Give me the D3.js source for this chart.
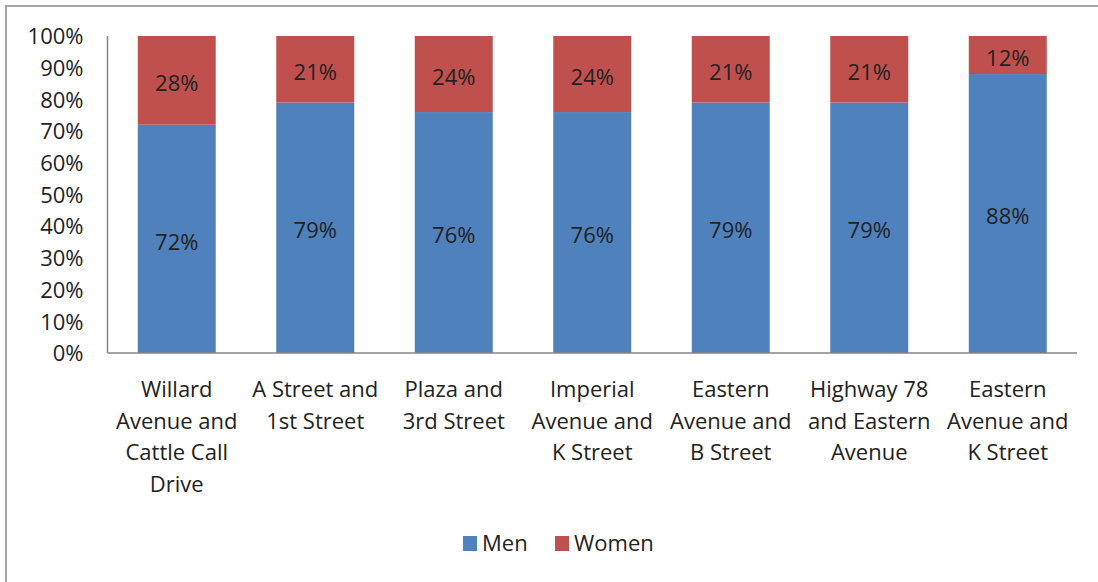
<!DOCTYPE html>
<html>
<head>
<meta charset="utf-8">
<script src="https://cdn.jsdelivr.net/npm/d3@7"></script>
<style>
  html, body { margin: 0; padding: 0; background: #fff; }
  svg { display: block; }
  text { font-family: "Open Sans", "DejaVu Sans", sans-serif; fill: #222; }
</style>
</head>
<body>
<script>
const categories = [
  ["Willard", "Avenue and", "Cattle Call", "Drive"],
  ["A Street and", "1st Street"],
  ["Plaza and", "3rd Street"],
  ["Imperial", "Avenue and", "K Street"],
  ["Eastern", "Avenue and", "B Street"],
  ["Highway 78", "and Eastern", "Avenue"],
  ["Eastern", "Avenue and", "K Street"]
];
const men = [72, 79, 76, 76, 79, 79, 88];
const women = [28, 21, 24, 24, 21, 21, 12];
const yTicks = [0, 10, 20, 30, 40, 50, 60, 70, 80, 90, 100];
const seriesNames = ["Men", "Women"];
const colors = ["#4f81bd", "#c0504d"];

const W = 1098, H = 582;
const svg = d3.select("body").append("svg").attr("width", W).attr("height", H);

// outer chart border
svg.append("rect").attr("x", 6).attr("y", 6).attr("width", W + 10).attr("height", H + 10)
  .attr("fill", "none").attr("stroke", "#a6a6a6").attr("stroke-width", 2);

const plotLeft = 107.5, plotRight = 1077, plotTop = 36, plotBottom = 353;
const ids = categories.map((d, i) => i);
const x = d3.scaleBand().domain(ids).range([plotLeft, plotRight])
  .paddingInner(0.437).paddingOuter(0.2185);
const y = d3.scaleLinear().domain([0, 100]).range([plotBottom, plotTop]);

const FS = 22;

// y axis labels
const yAxis = d3.axisLeft(y).tickValues(yTicks).tickSize(0).tickPadding(24)
  .tickFormat(d => d + "%");
const ya = svg.append("g").attr("transform", `translate(${plotLeft},0)`).call(yAxis);
ya.select(".domain").remove();
ya.selectAll("text").attr("font-size", FS).attr("font-family", "'Open Sans', sans-serif")
  .attr("fill", "#222").attr("dy", "0.35em");

// stacked bars
const stackData = ids.map(i => ({ i, Men: men[i], Women: women[i] }));
const stack = d3.stack().keys(seriesNames)(stackData);
stack.forEach((layer, li) => {
  svg.append("g").selectAll("rect").data(layer).join("rect")
    .attr("x", d => x(d.data.i))
    .attr("width", x.bandwidth())
    .attr("y", d => y(d[1]))
    .attr("height", d => y(d[0]) - y(d[1]))
    .attr("fill", colors[li]);
  svg.append("g").selectAll("text").data(layer).join("text")
    .attr("x", d => x(d.data.i) + x.bandwidth() / 2)
    .attr("y", d => (y(d[0]) + y(d[1])) / 2 + 3)
    .attr("dy", "0.35em")
    .attr("text-anchor", "middle")
    .attr("font-size", FS)
    .attr("fill", li === 0 ? "#1c2636" : "#3a1514")
    .text(d => (d[1] - d[0]) + "%");
});

// axis lines
svg.append("line").attr("x1", plotLeft).attr("x2", plotLeft).attr("y1", plotTop).attr("y2", plotBottom)
  .attr("stroke", "#868686").attr("stroke-width", 1.5);
svg.append("line").attr("x1", plotLeft).attr("x2", plotRight).attr("y1", plotBottom).attr("y2", plotBottom)
  .attr("stroke", "#868686").attr("stroke-width", 1.5);

// category labels
const xAxis = svg.append("g");
ids.forEach(i => {
  const t = xAxis.append("text")
    .attr("x", x(i) + x.bandwidth() / 2)
    .attr("y", 397)
    .attr("text-anchor", "middle")
    .attr("font-size", FS);
  categories[i].forEach((line, k) => {
    t.append("tspan").attr("x", x(i) + x.bandwidth() / 2).attr("dy", k === 0 ? 0 : 31.5).text(line);
  });
});

// legend
const legend = svg.append("g");
const legendX = [463, 555];
seriesNames.forEach((name, i) => {
  legend.append("rect").attr("x", legendX[i]).attr("y", 536).attr("width", 14).attr("height", 15)
    .attr("fill", colors[i]);
  legend.append("text").attr("x", legendX[i] + 19).attr("y", 551)
    .attr("font-size", FS).text(name);
});
</script>
</body>
</html>
